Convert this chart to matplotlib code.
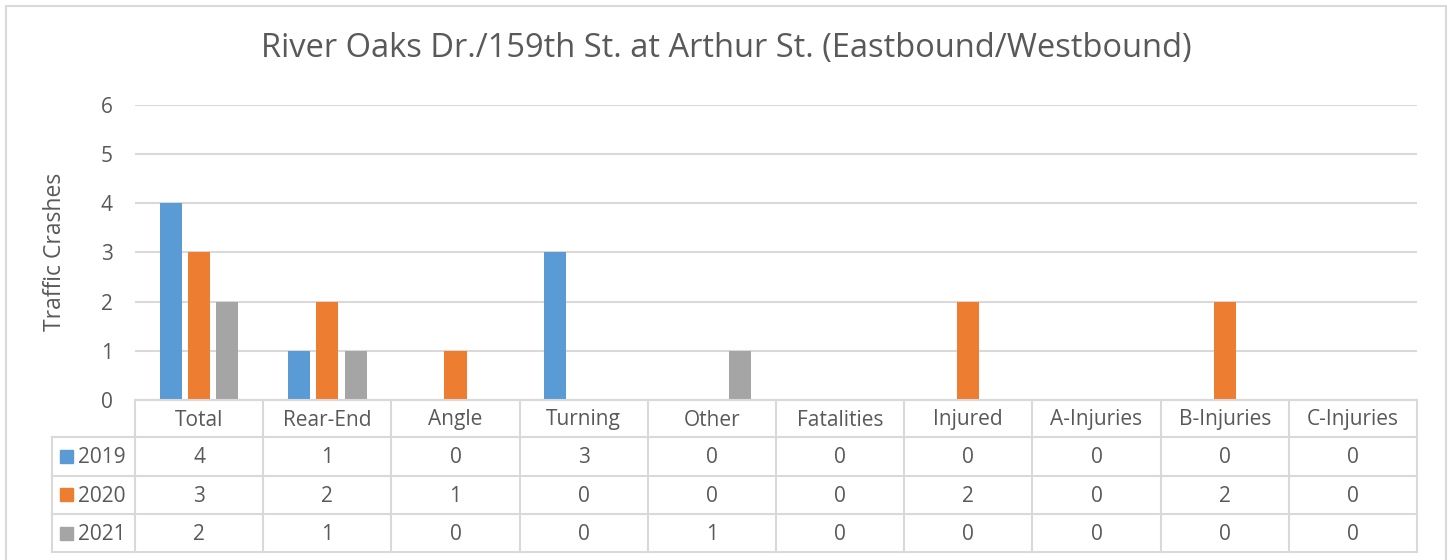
import matplotlib
matplotlib.use("Agg")
import matplotlib.pyplot as plt
from matplotlib.patches import Rectangle
from matplotlib.lines import Line2D
import numpy as np

# chart data
categories = ["Total", "Rear-End", "Angle", "Turning", "Other", "Fatalities",
              "Injured", "A-Injuries", "B-Injuries", "C-Injuries"]
years = ["2019", "2020", "2021"]
crashes_2019 = [4, 1, 0, 3, 0, 0, 0, 0, 0, 0]
crashes_2020 = [3, 2, 1, 0, 0, 0, 2, 0, 2, 0]
crashes_2021 = [2, 1, 0, 0, 1, 0, 0, 0, 0, 0]
series = [crashes_2019, crashes_2020, crashes_2021]
colors = ["#5b9bd5", "#ed7d31", "#a5a5a5"]

title = "River Oaks Dr./159th St. at Arthur St. (Eastbound/Westbound)"
ylabel = "Traffic Crashes"

plt.rcParams['font.family'] = ['Open Sans', 'DejaVu Sans']
txt_color = "#595959"
line_color = "#d9d9d9"

W, H = 1449, 560
fig = plt.figure(figsize=(W / 100, H / 100), dpi=100)


def fx(px):
    return px / W


def fy(py):
    return 1 - py / H


# plot area in pixels
left, right, top, bottom = 135, 1417, 104.6, 400
ax = fig.add_axes([fx(left), fy(bottom), fx(right) - fx(left), fy(top) - fy(bottom)])

x = np.arange(len(categories))
bar_w = 0.172
offset = 0.221
for i, vals in enumerate(series):
    ax.bar(x + (i - 1) * offset, vals, width=bar_w, color=colors[i], zorder=3)

ax.set_xlim(-0.5, len(categories) - 0.5)
ax.set_ylim(0, 6)
ax.set_yticks(range(0, 7))
ax.yaxis.grid(True, color=line_color, linewidth=1.5, zorder=0)
ax.set_xticks([])
for s in ["top", "right", "left"]:
    ax.spines[s].set_visible(False)
ax.spines["bottom"].set_color(line_color)
ax.spines["bottom"].set_linewidth(1.5)
ax.tick_params(axis="y", length=0, pad=16, labelsize=15, labelcolor=txt_color)

fig.text(fx(55), fy(252), ylabel, rotation=90, ha="center", va="center",
         fontsize=16.5, color=txt_color)
fig.text(fx(726), fy(49), title, ha="center", va="center", fontsize=23.5, color=txt_color)

# chart border
fig.patches.append(Rectangle((fx(6), fy(600)), fx(1445.5) - fx(6), fy(6) - fy(600),
                             transform=fig.transFigure, fill=False,
                             edgecolor=line_color, linewidth=1.5))

# data table
col_w = (right - left) / len(categories)
row_edges = [400, 437, 475.5, 514, 552]
label_left = 52


def hline(x0, x1, y):
    fig.add_artist(Line2D([fx(x0), fx(x1)], [fy(y), fy(y)], color=line_color, linewidth=1.5))


def vline(xp, y0, y1):
    fig.add_artist(Line2D([fx(xp), fx(xp)], [fy(y0), fy(y1)], color=line_color, linewidth=1.5))


hline(left, right, row_edges[0])
for y in row_edges[1:]:
    hline(label_left, right, y)
vline(label_left, row_edges[1], row_edges[-1])
for j in range(len(categories) + 1):
    vline(left + j * col_w, row_edges[0], row_edges[-1])

for j, cat in enumerate(categories):
    cx = left + (j + 0.5) * col_w
    cy = (row_edges[0] + row_edges[1]) / 2 + 1.5
    fig.text(fx(cx), fy(cy), cat, ha="center", va="center", fontsize=15, color=txt_color)

for i, (yr, vals) in enumerate(zip(years, series)):
    cy = (row_edges[i + 1] + row_edges[i + 2]) / 2
    fig.patches.append(Rectangle((fx(60), fy(cy + 6.5)), fx(13), 13 / H,
                                 transform=fig.transFigure, color=colors[i]))
    fig.text(fx(78), fy(cy + 1.5), yr, ha="left", va="center", fontsize=15, color=txt_color)
    for j, v in enumerate(vals):
        cx = left + (j + 0.5) * col_w
        fig.text(fx(cx), fy(cy + 1.5), str(v), ha="center", va="center", fontsize=15, color=txt_color)

fig.savefig("out.png", dpi=100)
